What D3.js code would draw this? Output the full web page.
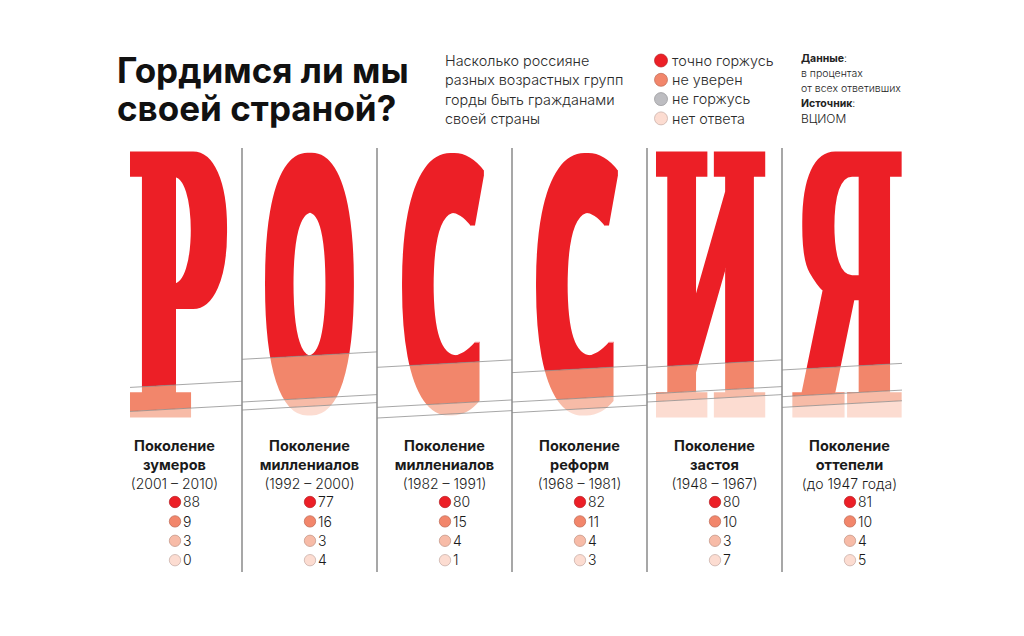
<!DOCTYPE html>
<html><head><meta charset="utf-8">
<script src="https://cdn.jsdelivr.net/npm/d3@7"></script>
<style>body{margin:0;background:#fff} svg{display:block}</style>
</head><body>
<svg id="c" width="1024" height="636"></svg>
<script>
// ---- data ----
const letters = ["Р","О","С","С","И","Я"];
const genTitle = ["Поколение","Поколение","Поколение","Поколение","Поколение","Поколение"];
const genName = ["зумеров","миллениалов","миллениалов","реформ","застоя","оттепели"];
const genYears = ["(2001 – 2010)","(1992 – 2000)","(1982 – 1991)","(1968 – 1981)","(1948 – 1967)","(до 1947 года)"];
const proud = [88,77,80,82,80,81];
const unsure = [9,16,15,11,10,10];
const notProud = [3,3,4,4,3,4];
const noAnswer = [0,4,1,3,7,5];
const categories = ["точно горжусь","не уверен","не горжусь","нет ответа"];
const titleLines = ["Гордимся ли мы","своей страной?"];
const subtitleLines = ["Насколько россияне","разных возрастных групп","горды быть гражданами","своей страны"];
const noteLines = [["Данные",":"],["в процентах",""],["от всех ответивших",""],["Источник",":"],["ВЦИОМ",""]];

// ---- styles / layout ----
const bandColors = ["#ec1f26","#f2866b","#f7bba7","#fcdcd1"];
const legendColors = ["#ec1f26","#f2866b","#bdbdc1","#fcdcd1"];
const uiFont = "Inter, 'Noto Sans', sans-serif";
const serifG = {family: "'DejaVu Serif'", weight: "bold", stretch: "normal"};
const sansG = {family: "'Noto Sans'", weight: "900", stretch: "extra-condensed"};
const glyphFonts = [serifG, sansG, sansG, sansG, serifG, serifG];
const glyphOffset = [4.5, 0.5, -1, -2, -3.5, -2.5];
const glyphWidth = [98, 90, 83, 83, 110, 110];
const glyphDil = [5, 2, 2, 2, 3, 3.5];
const dilY = 1.5;
const slope = -0.055;

const svg = d3.select("#c");
const x = d3.scaleBand().domain(d3.range(6)).range([107, 917]).paddingInner(0).paddingOuter(0);
const y = d3.scaleLinear().domain([0, 100]).range([150, 417]);
const bw = x.bandwidth();

const series = [proud, unsure, notProud, noAnswer];
const cols = d3.range(6).map(i => {
  const vals = series.map(s => s[i]);
  const cum = [0]; vals.forEach(v => cum.push(cum[cum.length-1] + v));
  return {i, vals, cum};
});

// ---- glyph measurement ----
const F = 400;
const ctx = document.createElement("canvas").getContext("2d");
const defs = svg.append("defs");

cols.forEach(c => {
  const i = c.i;
  const gf = glyphFonts[i];
  const dilX = glyphDil[i];
  defs.append("filter").attr("id", "dil" + i)
    .attr("filterUnits", "userSpaceOnUse").attr("x", 0).attr("y", 0).attr("width", 1024).attr("height", 636)
    .append("feMorphology").attr("operator", "dilate").attr("radius", `${dilX} ${dilY}`);
  ctx.font = `${gf.weight} ${F}px ${gf.family}`;
  ctx.fontStretch = gf.stretch;
  const m = ctx.measureText(letters[i]);
  const inkW = m.actualBoundingBoxLeft + m.actualBoundingBoxRight;
  const inkH = m.actualBoundingBoxAscent + m.actualBoundingBoxDescent;
  const sx = (glyphWidth[i] - 2 * dilX) / inkW;
  const sy = (y(100) - y(0) - 2 * dilY) / inkH;
  const cx = x(i) + bw / 2;
  const left = cx + glyphOffset[i] - glyphWidth[i] / 2;
  c.cx = cx; c.gl = left; c.gr = left + glyphWidth[i];
  const tx = left + dilX + m.actualBoundingBoxLeft * sx;
  const ty = y(0) + dilY + m.actualBoundingBoxAscent * sy;
  defs.append("mask").attr("id", "mask" + i)
    .attr("maskUnits", "userSpaceOnUse").attr("x", 0).attr("y", 0).attr("width", 1024).attr("height", 636)
    .append("g").attr("filter", `url(#dil${i})`)
    .append("text")
    .attr("transform", `translate(${tx},${ty}) scale(${sx},${sy})`)
    .attr("font-family", gf.family).attr("font-weight", gf.weight).attr("font-size", F)
    .style("font-stretch", gf.stretch)
    .attr("fill", "#fff")
    .text(letters[i]);
});

// ---- bands inside letters ----
const lineY = (c, v, xx) => y(v) + slope * (xx - c.cx);
cols.forEach(c => {
  const g = svg.append("g").attr("mask", `url(#mask${c.i})`);
  const x0 = x(c.i) - 20, x1 = x(c.i) + bw + 20;
  c.vals.forEach((v, k) => {
    if (v <= 0) return;
    const topF = k === 0 ? (() => -1000) : (xx => lineY(c, c.cum[k], xx));
    const botF = c.cum[k+1] >= 100 ? (() => 2000) : (xx => lineY(c, c.cum[k+1], xx));
    const pts = [[x0, topF(x0)], [x1, topF(x1)], [x1, botF(x1)], [x0, botF(x0)]];
    g.append("path").attr("d", d3.line()(pts) + "Z").attr("fill", bandColors[k]);
  });
});

// ---- boundary lines ----
cols.forEach(c => {
  const xl = c.i === 0 ? c.gl : x(c.i);
  const xr = c.i === 5 ? c.gr : x(c.i) + bw;
  for (let k = 1; k <= 3; k++) {
    if (c.cum[k] >= 100) continue;
    svg.append("line")
      .attr("x1", xl).attr("x2", xr)
      .attr("y1", lineY(c, c.cum[k], xl)).attr("y2", lineY(c, c.cum[k], xr))
      .attr("stroke", "#7d7d7d").attr("stroke-width", 0.8).attr("stroke-opacity", 0.85);
  }
});

// ---- dividers ----
d3.range(1, 6).forEach(i => {
  svg.append("line").attr("x1", x(i)).attr("x2", x(i)).attr("y1", 148).attr("y2", 572)
    .attr("stroke", "#8a8a8a").attr("stroke-width", 1.5);
});

// ---- bottom labels ----
cols.forEach(c => {
  const g = svg.append("g").attr("font-family", uiFont).attr("fill", "#1a1a1a").attr("text-anchor", "middle");
  g.append("text").attr("x", c.cx).attr("y", 451).attr("font-size", 14.5).attr("font-weight", 700).text(genTitle[c.i]);
  g.append("text").attr("x", c.cx).attr("y", 470).attr("font-size", 14.5).attr("font-weight", 700).text(genName[c.i]);
  g.append("text").attr("x", c.cx).attr("y", 489).attr("font-size", 14).attr("font-weight", 300).text(genYears[c.i]);
  c.vals.forEach((v, k) => {
    const yy = 502 + k * 19.4;
    svg.append("circle").attr("cx", c.cx + 0.5).attr("cy", yy).attr("r", 5.7)
      .attr("fill", bandColors[k]).attr("stroke", d3.color(bandColors[k]).darker(0.7)).attr("stroke-width", 0.7);
    svg.append("text").attr("x", c.cx + 8.5).attr("y", yy + 5.2).attr("font-family", uiFont)
      .attr("font-size", 14).attr("font-weight", 300).attr("fill", "#1a1a1a").text(v);
  });
});

// ---- title ----
titleLines.forEach((t, j) => {
  svg.append("text").attr("x", 117).attr("y", 83 + j * 38).attr("font-family", uiFont)
    .attr("font-size", 35).attr("font-weight", 700).attr("fill", "#111").text(t);
});
subtitleLines.forEach((t, j) => {
  svg.append("text").attr("x", 445).attr("y", 66 + j * 19.3).attr("font-family", uiFont)
    .attr("font-size", 14.4).attr("font-weight", 300).attr("fill", "#2a2a2a").text(t);
});
categories.forEach((t, j) => {
  const yy = 60.5 + j * 19.3;
  svg.append("circle").attr("cx", 661).attr("cy", yy).attr("r", 6.5)
    .attr("fill", legendColors[j]).attr("stroke", d3.color(legendColors[j]).darker(0.7)).attr("stroke-width", 0.7);
  svg.append("text").attr("x", 672).attr("y", yy + 5.2).attr("font-family", uiFont)
    .attr("font-size", 14.4).attr("font-weight", 300).attr("fill", "#2a2a2a").text(t);
});
const noteY = [61.5, 77, 92, 107, 123];
noteLines.forEach((n, j) => {
  const t = svg.append("text").attr("x", 801).attr("y", noteY[j]).attr("font-family", uiFont)
    .attr("font-size", j === 4 ? 12 : 10.5).attr("fill", "#222");
  if (n[1]) {
    t.append("tspan").attr("font-weight", 700).text(n[0]);
    t.append("tspan").attr("font-weight", 300).text(n[1]);
  } else {
    t.attr("font-weight", 300).text(n[0]);
  }
});
</script>
</body></html>
